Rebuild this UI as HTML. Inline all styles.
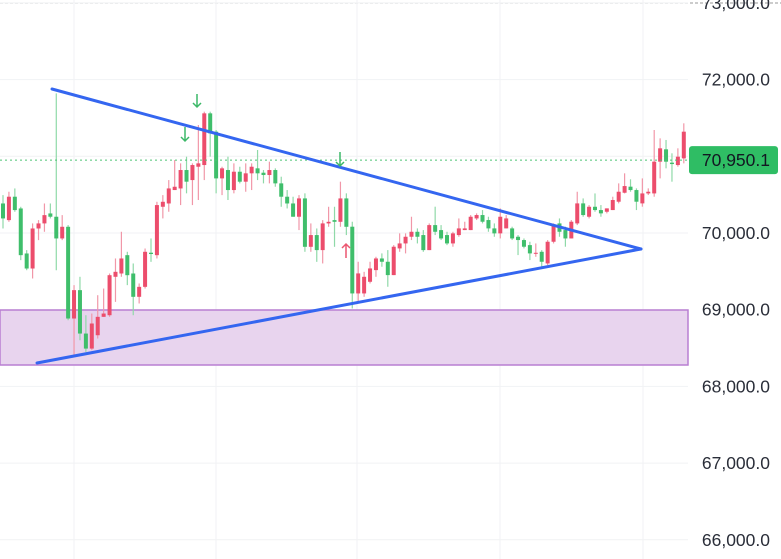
<!DOCTYPE html>
<html><head><meta charset="utf-8"><style>
html,body{margin:0;padding:0;background:#fff;}
svg{display:block;font-family:"Liberation Sans",sans-serif;}
</style></head><body>
<svg id="chart" width="781" height="559">
<line x1="0" y1="3" x2="781" y2="3" stroke="#999" stroke-dasharray="3,2" stroke-width="1"/>
<g id="grid"></g>
<rect x="0" y="310" width="688" height="55" fill="#e8d4ee" stroke="#b97fd2" stroke-width="1.5"/>
<g id="candles"></g>
<line id="lastline" x1="0" x2="688" stroke="#4cc474" stroke-dasharray="2,3" stroke-width="1"/>
<line x1="52" y1="89" x2="641" y2="249" stroke="#3466f0" stroke-width="3" stroke-linecap="round"/>
<line x1="37" y1="363" x2="641" y2="249" stroke="#3466f0" stroke-width="3" stroke-linecap="round"/>
<g fill="none" stroke-width="1.5">
<path d="M197 94 V107 M193 103 L197 107 L201 103" stroke="#3cb868"/>
<path d="M185 127 V141 M181 137 L185 141 L189 137" stroke="#3cb868"/>
<path d="M340 152 V166 M336 162 L340 166 L344 162" stroke="#3cb868"/>
<path d="M346 258 V244 M342 248 L346 244 L350 248" stroke="#ec5670"/>
</g>
<g id="axis"></g>
</svg>
<script>
const opens=[70385,70168,70473,70320,69733,69537,70059,70125,70255,70212,69929,70081,68885,69255,68689,68493,68667,68907,68928,69429,69472,69711,69472,69168,69298,69743,69711,70342,70385,70560,70581,70821,70690,70864,70886,71560,71321,70712,70821,70560,70799,70669,70778,70843,70786,70756,70821,70647,70473,70385,70212,70451,69820,69973,69777,70125,70168,70146,70451,70082,69212,69212,69364,69516,69668,69625,69451,69799,69864,69951,70016,69973,69777,70103,70038,69973,69864,69973,70038,70038,70190,70234,70169,70060,69995,70060,70060,69951,69908,69842,69734,69755,69603,69886,70125,70038,69929,70125,70386,70212,70342,70299,70277,70299,70408,70525,70604,70560,70386,70516,70516,70930,71091,70917,70886,70973];
const closes=[70190,70473,70299,69711,69537,70059,70125,70233,70212,69929,70081,68885,69255,68689,68493,68820,68907,68950,69450,69494,69668,69450,69168,69298,69755,69726,70364,70407,70581,70603,70821,70669,70886,70908,71560,71299,70712,70843,70560,70799,70669,70778,70864,70778,70756,70821,70647,70473,70385,70212,70451,69820,69973,69777,70125,70146,70146,70451,70081,69212,69473,69429,69538,69668,69625,69451,69821,69864,69951,70016,69951,69777,70103,70016,69929,69864,69995,70060,70060,70212,70234,70147,70060,69995,70212,70190,69929,69908,69821,69734,69742,69625,69886,70103,70016,69929,70147,70386,70234,70342,70299,70256,70321,70430,70538,70612,70560,70408,70516,70538,70930,71104,70930,70899,70995,71321];
const highs=[70494,70538,70581,70342,69777,70125,70168,70385,70385,71821,70233,70103,69320,69429,68928,68950,69189,69276,69472,69668,70016,69755,69603,69342,69798,69929,70407,70494,70690,70951,70908,70995,70908,71408,71582,71582,71343,70864,70995,70908,70864,70908,70908,71082,70821,70930,70843,70734,70560,70473,70494,70517,70125,70059,70168,70342,70342,70669,70517,70147,69625,69494,69625,69690,69734,69777,69842,69995,69995,70212,70060,70038,70125,70343,70103,70016,70016,70190,70147,70234,70256,70299,70212,70125,70321,70234,70082,69973,69929,69886,69864,69777,69908,70125,70190,70082,70169,70538,70451,70364,70516,70364,70321,70473,70647,70778,70700,70582,70712,70582,71343,71234,71213,71039,71104,71430];
const lows=[70059,70146,70277,69646,69515,69407,69907,70016,70190,69515,69907,68863,68385,68602,68450,68472,68624,68907,68907,69102,69429,69320,68928,69081,69276,69624,69668,70190,70277,70560,70364,70517,70364,70430,70690,70995,70517,70494,70430,70517,70647,70538,70560,70690,70647,70647,70603,70342,70320,70212,70038,69755,69755,69624,69603,70081,69820,70081,69973,69016,69081,69168,69342,69429,69560,69299,69451,69755,69734,69908,69864,69755,69777,69973,69908,69842,69821,69951,70038,70038,70169,70125,70016,69951,69929,70060,69908,69712,69799,69647,69690,69560,69581,69864,69951,69821,69929,70103,70212,70190,70277,70212,70256,70299,70386,70516,70538,70299,70343,70495,70473,70712,70843,70669,70865,70908];
const tickValues=[73000,72000,71000,70000,69000,68000,67000,66000];
const tickLabels=["73,000.0","72,000.0","","70,000.0","69,000.0","68,000.0","67,000.0","66,000.0"];
const lastPrice=70950.1;
const lastLabel="70,950.1";
const vGridX=[74,216,357,500,643];

const NS="http://www.w3.org/2000/svg";
function y(p){return 233-(p-70000)*0.0767;}
function x(i){return 3+i*5.92;}
function mk(tag,attrs,parent){const e=document.createElementNS(NS,tag);for(const k in attrs)e.setAttribute(k,attrs[k]);parent.appendChild(e);return e;}
const grid=document.getElementById('grid');
tickValues.forEach(v=>{
  const l=mk('line',{x1:0,x2:688,y1:y(v),y2:y(v),stroke:'#f1f2f4','stroke-width':1},grid);
  
  
});
vGridX.forEach(gx=>{
  const l=mk('line',{x1:gx,x2:gx,y1:0,y2:559,stroke:'#f1f2f4','stroke-width':1},grid);
  
  
});
const cg=document.getElementById('candles');
for(let i=0;i<opens.length;i++){
  const up=closes[i]>=opens[i];
  const col=up?'#ec4d6c':'#3fbe6b';
  const wc=up?'#f197a8':'#8fd9a8';
  const cx=x(i);
  const w=mk('line',{x1:cx,x2:cx,y1:y(highs[i]),y2:y(lows[i]),stroke:wc,'stroke-width':1.2},cg);
  
  
  const t=y(Math.max(opens[i],closes[i])),b=y(Math.min(opens[i],closes[i]));
  const r=mk('rect',{x:cx-2,y:t,width:4,height:Math.max(1,b-t),fill:col},cg);
  
  
}
const ll=document.getElementById('lastline');
ll.setAttribute('y1',y(lastPrice));ll.setAttribute('y2',y(lastPrice));
const ax=document.getElementById('axis');
tickValues.forEach((v,i)=>{
  if(!tickLabels[i])return;
  const t=mk('text',{x:770,y:y(v)+6,'text-anchor':'end','font-size':17.5,fill:'#2a2e39'},ax);
  t.textContent=tickLabels[i];
  
  
});
const bx=mk('rect',{x:689,y:y(lastPrice)-14,width:89,height:28,rx:3,fill:'#2fbd64'},ax);


const bt=mk('text',{x:770,y:y(lastPrice)+6,'text-anchor':'end','font-size':17.5,fill:'#131722'},ax);
bt.textContent=lastLabel;


</script>
</body></html>
